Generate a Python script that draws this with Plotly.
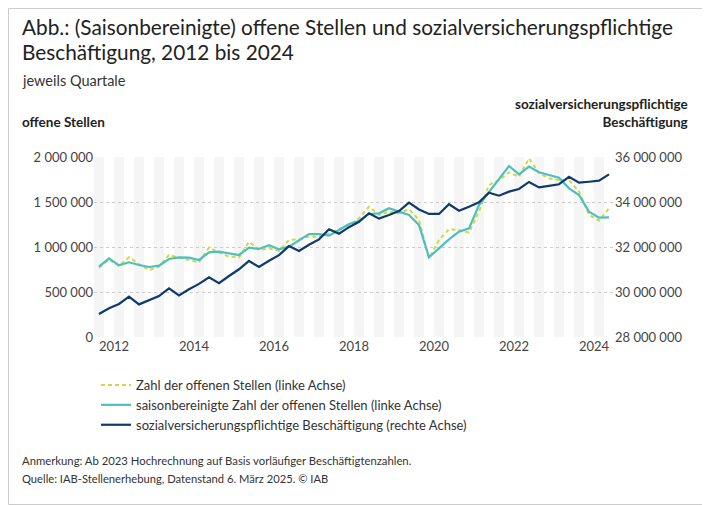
import plotly.graph_objects as go

# Quartale 2012Q1 .. 2024Q4
years = list(range(2012, 2025))
quarter_idx = list(range(52))

offene_stellen = [
    770e3, 863e3, 789e3, 885e3, 811e3, 744e3, 781e3, 911e3, 881e3, 856e3, 830e3, 993e3, 937e3,
    893e3, 885e3, 1059e3, 967e3, 985e3, 956e3, 1078e3, 1085e3, 1115e3, 1115e3, 1152e3, 1196e3, 1244e3,
    1319e3, 1448e3, 1356e3, 1393e3, 1374e3, 1419e3, 1300e3, 874e3, 1078e3, 1196e3, 1189e3, 1159e3, 1393e3,
    1689e3, 1744e3, 1830e3, 1781e3, 1985e3, 1819e3, 1763e3, 1744e3, 1744e3, 1615e3, 1356e3, 1293e3, 1430e3,
]
saisonbereinigt = [
    781e3, 874e3, 796e3, 830e3, 800e3, 778e3, 793e3, 867e3, 885e3, 881e3, 856e3, 941e3, 948e3,
    930e3, 911e3, 993e3, 978e3, 1019e3, 974e3, 1004e3, 1078e3, 1144e3, 1144e3, 1126e3, 1189e3, 1256e3,
    1289e3, 1367e3, 1374e3, 1430e3, 1393e3, 1356e3, 1244e3, 885e3, 985e3, 1085e3, 1170e3, 1207e3, 1467e3,
    1615e3, 1752e3, 1900e3, 1807e3, 1893e3, 1830e3, 1800e3, 1770e3, 1652e3, 1578e3, 1393e3, 1326e3, 1330e3,
]
beschaeftigung = [
    29.02e6, 29.28e6, 29.47e6, 29.79e6, 29.45e6, 29.63e6, 29.82e6, 30.16e6, 29.85e6, 30.12e6, 30.36e6, 30.65e6, 30.39e6,
    30.71e6, 31.01e6, 31.38e6, 31.11e6, 31.39e6, 31.64e6, 32.04e6, 31.82e6, 32.10e6, 32.34e6, 32.79e6, 32.59e6, 32.88e6,
    33.12e6, 33.50e6, 33.26e6, 33.42e6, 33.60e6, 33.97e6, 33.67e6, 33.47e6, 33.47e6, 33.90e6, 33.61e6, 33.79e6, 33.99e6,
    34.41e6, 34.28e6, 34.46e6, 34.58e6, 34.89e6, 34.65e6, 34.72e6, 34.79e6, 35.12e6, 34.86e6, 34.90e6, 34.95e6, 35.23e6,
]

FONT = "Lato"
GRAU = "#444444"
OFF = 8  # Seitenrand des Browsers
L, R, T, B = 94, 614, 157, 337  # Plotfläche in Fensterpixeln


def px(x):
    return (x - L) / (R - L)


def py(y):
    return (B - y) / (B - T)


fig = go.Figure()

fig.add_trace(go.Scatter(
    x=quarter_idx, y=offene_stellen, name="Zahl der offenen Stellen (linke Achse)",
    line=dict(color="#cfd84a", width=2, dash="4px,3px"),
))
fig.add_trace(go.Scatter(
    x=quarter_idx, y=saisonbereinigt, name="saisonbereinigte Zahl der offenen Stellen (linke Achse)",
    line=dict(color="#4dbfbf", width=2.2),
))
fig.add_trace(go.Scatter(
    x=quarter_idx, y=beschaeftigung, name="sozialversicherungspflichtige Beschäftigung (rechte Achse)",
    line=dict(color="#0e3a6c", width=2.2), yaxis="y2",
))

# Hintergrundbänder für jedes zweite Quartal
for i in quarter_idx[::2]:
    fig.add_vrect(x0=i - 0.5, x1=i + 0.5, fillcolor="#f5f5f5", line_width=0, layer="below")

fig.update_layout(
    width=710 - OFF, height=505 - OFF,
    margin=dict(l=L - OFF, r=710 - R, t=T - OFF, b=505 - B),
    plot_bgcolor="white", paper_bgcolor="white",
    font=dict(family=FONT, size=13, color=GRAU),
    separators=", ",
    showlegend=True,
    legend=dict(x=px(96), y=py(370), xanchor="left", yanchor="top",
                font=dict(size=13, color="#333"), tracegroupgap=2),
    xaxis=dict(range=[-0.5, 51.5], tickvals=[4 * (y - 2012) + 1.5 for y in years if y % 2 == 0],
               ticktext=[str(y) for y in years if y % 2 == 0], showgrid=False, zeroline=False,
               ticks="", tickfont=dict(size=13, color=GRAU)),
    yaxis=dict(range=[0, 2.0e6], dtick=500000, tickformat=",d", showgrid=True,
               gridcolor="#cccccc", griddash="dot", zeroline=False, ticks="",
               tickfont=dict(size=13, color=GRAU)),
    yaxis2=dict(range=[28e6, 36e6], dtick=2e6, tickformat=",d", overlaying="y", side="right",
                showgrid=False, zeroline=False, ticks="", tickfont=dict(size=13, color=GRAU)),
)

anmerkungen = [
    dict(x=20, y=27, text="Abb.: (Saisonbereinigte) offene Stellen und sozialversicherungspflichtige",
         size=20.8, color="#222"),
    dict(x=20, y=51, text="Beschäftigung, 2012 bis 2024", size=20.8, color="#222"),
    dict(x=20, y=81, text="jeweils Quartale", size=14.5, color="#333"),
    dict(x=20, y=122, text="<b>offene Stellen</b>", size=13.5, color="#222"),
    dict(x=20, y=460, text="Anmerkung: Ab 2023 Hochrechnung auf Basis vorläufiger Beschäftigtenzahlen.",
         size=11.3, color="#333"),
    dict(x=20, y=478, text="Quelle: IAB-Stellenerhebung, Datenstand 6. März 2025. © IAB",
         size=11.2, color="#333"),
]
for a in anmerkungen:
    fig.add_annotation(xref="paper", yref="paper", x=px(a["x"]), y=py(a["y"]),
                       xanchor="left", yanchor="middle", showarrow=False, text=a["text"],
                       font=dict(family=FONT, size=a["size"], color=a["color"]))
fig.add_annotation(xref="paper", yref="paper", x=px(690), y=py(113),
                   xanchor="right", yanchor="middle", align="right", showarrow=False,
                   text="<b>sozialversicherungspflichtige<br>Beschäftigung</b>",
                   font=dict(family=FONT, size=13.5, color="#222"))

# Rahmen um die Grafik
fig.add_shape(type="rect", xref="paper", yref="paper",
              x0=px(OFF + 0.5), x1=px(709.5), y0=py(504.5), y1=py(OFF + 0.5),
              line=dict(color="#cccccc", width=1))

fig.write_html("out.html")
